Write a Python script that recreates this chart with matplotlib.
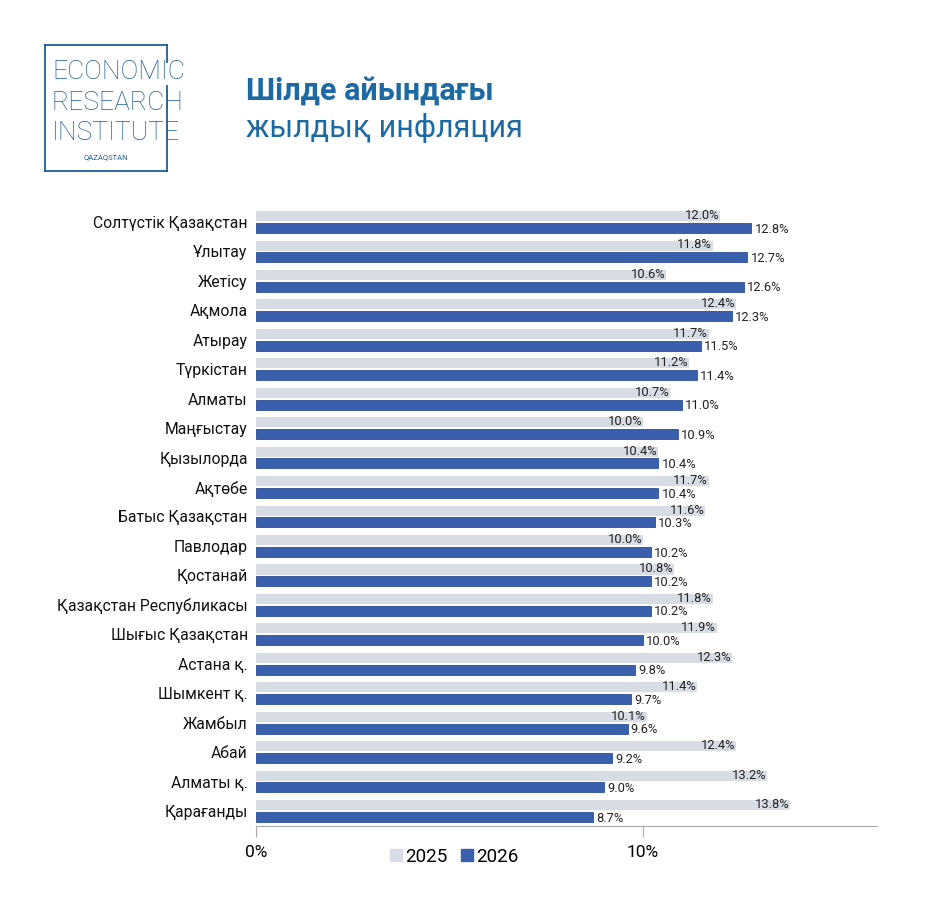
import matplotlib.pyplot as plt
from matplotlib.lines import Line2D
import numpy as np

plt.rcParams['font.family'] = ['Roboto', 'DejaVu Sans']

regions = [
    "Солтүстік Қазақстан", "Ұлытау", "Жетісу", "Ақмола", "Атырау", "Түркістан",
    "Алматы", "Маңғыстау", "Қызылорда", "Ақтөбе", "Батыс Қазақстан", "Павлодар",
    "Қостанай", "Қазақстан Республикасы", "Шығыс Қазақстан", "Астана қ.",
    "Шымкент қ.", "Жамбыл", "Абай", "Алматы қ.", "Қарағанды",
]
infl_2025 = [12.0, 11.8, 10.6, 12.4, 11.7, 11.2, 10.7, 10.0, 10.4, 11.7, 11.6,
             10.0, 10.8, 11.8, 11.9, 12.3, 11.4, 10.1, 12.4, 13.2, 13.8]
infl_2026 = [12.8, 12.7, 12.6, 12.3, 11.5, 11.4, 11.0, 10.9, 10.4, 10.4, 10.3,
             10.2, 10.2, 10.2, 10.0, 9.8, 9.7, 9.6, 9.2, 9.0, 8.7]
years = ["2025", "2026"]

light = '#d7dce5'
dark = '#3a5fad'
title_col = '#1b6aa3'

fig = plt.figure(figsize=(9.25, 9), dpi=100)
ax = fig.add_axes([256/925, 1-826/900, (877-256)/925, (826-205)/900])

y = np.arange(len(regions))
off = 0.2
h = 0.34
b1 = ax.barh(y - off, infl_2025, height=h, color=light)
b2 = ax.barh(y + off, infl_2026, height=h, color=dark, edgecolor='#2c4f99', linewidth=0.6)

for yi, v in zip(y, infl_2025):
    ax.text(v - 0.02, yi - off - 0.02, f'{v:.1f}%', ha='right', va='center', fontsize=9.3,
            color='#222222')
for yi, v in zip(y, infl_2026):
    ax.text(v + 0.08, yi + off + 0.04, f'{v:.1f}%', ha='left', va='center', fontsize=9.3,
            color='#222222')

ax.set_xlim(0, (877-256)/38.7)
ax.set_ylim(20.51, -0.577)
ax.set_yticks(y)
ax.set_yticklabels(regions, fontsize=11.3, color='#111111')
ax.tick_params(axis='y', length=0, pad=6)
ax.set_xticks([0, 10])
ax.set_xticklabels(['0%', '10%'], fontsize=12.5)
ax.tick_params(axis='x', length=8, color='#aaaaaa', pad=6)
for s in ['top', 'right', 'left']:
    ax.spines[s].set_visible(False)
ax.spines['bottom'].set_color('#aaaaaa')

handles = [Line2D([], [], marker='s', linestyle='', markersize=8.5, color=light),
           Line2D([], [], marker='s', linestyle='', markersize=8.5, color=dark)]
fig.legend(handles, years, loc='center', bbox_to_anchor=(454/925, 1-857/900), ncol=2,
           frameon=False, fontsize=13.5, handlelength=0.7, handletextpad=0.15,
           columnspacing=0.65)

# logo
logo_col = '#1d5f9a'
def fx(px):
    return px / 925
def fy(py):
    return 1 - py / 900
lines = [
    ([45, 45], [44.7, 171]),
    ([45, 167], [44.7, 44.7]),
    ([45, 167], [171, 171]),
    ([167, 167], [44.7, 62]),
    ([167, 167], [86, 171]),
]
for xs, ys in lines:
    fig.add_artist(Line2D([fx(v) for v in xs], [fy(v) for v in ys], color=logo_col, linewidth=1.3))
for txt, yy in [('ECONOMIC', 72), ('RESEARCH', 102.5), ('INSTITUTE', 133)]:
    fig.text(fx(52), fy(yy), txt, ha='left', va='center', fontsize=19, color=logo_col,
             fontweight='light')
fig.text(fx(106), fy(157), 'QAZAQSTAN', ha='center', va='center', fontsize=5.5, color=logo_col)

fig.text(fx(246), fy(91), 'Шілде айындағы', ha='left', va='center', fontsize=22,
         fontweight='bold', color=title_col)
fig.text(fx(246), fy(128), 'жылдық инфляция', ha='left', va='center', fontsize=22,
         color=title_col)

fig.savefig('out.png', dpi=100)
